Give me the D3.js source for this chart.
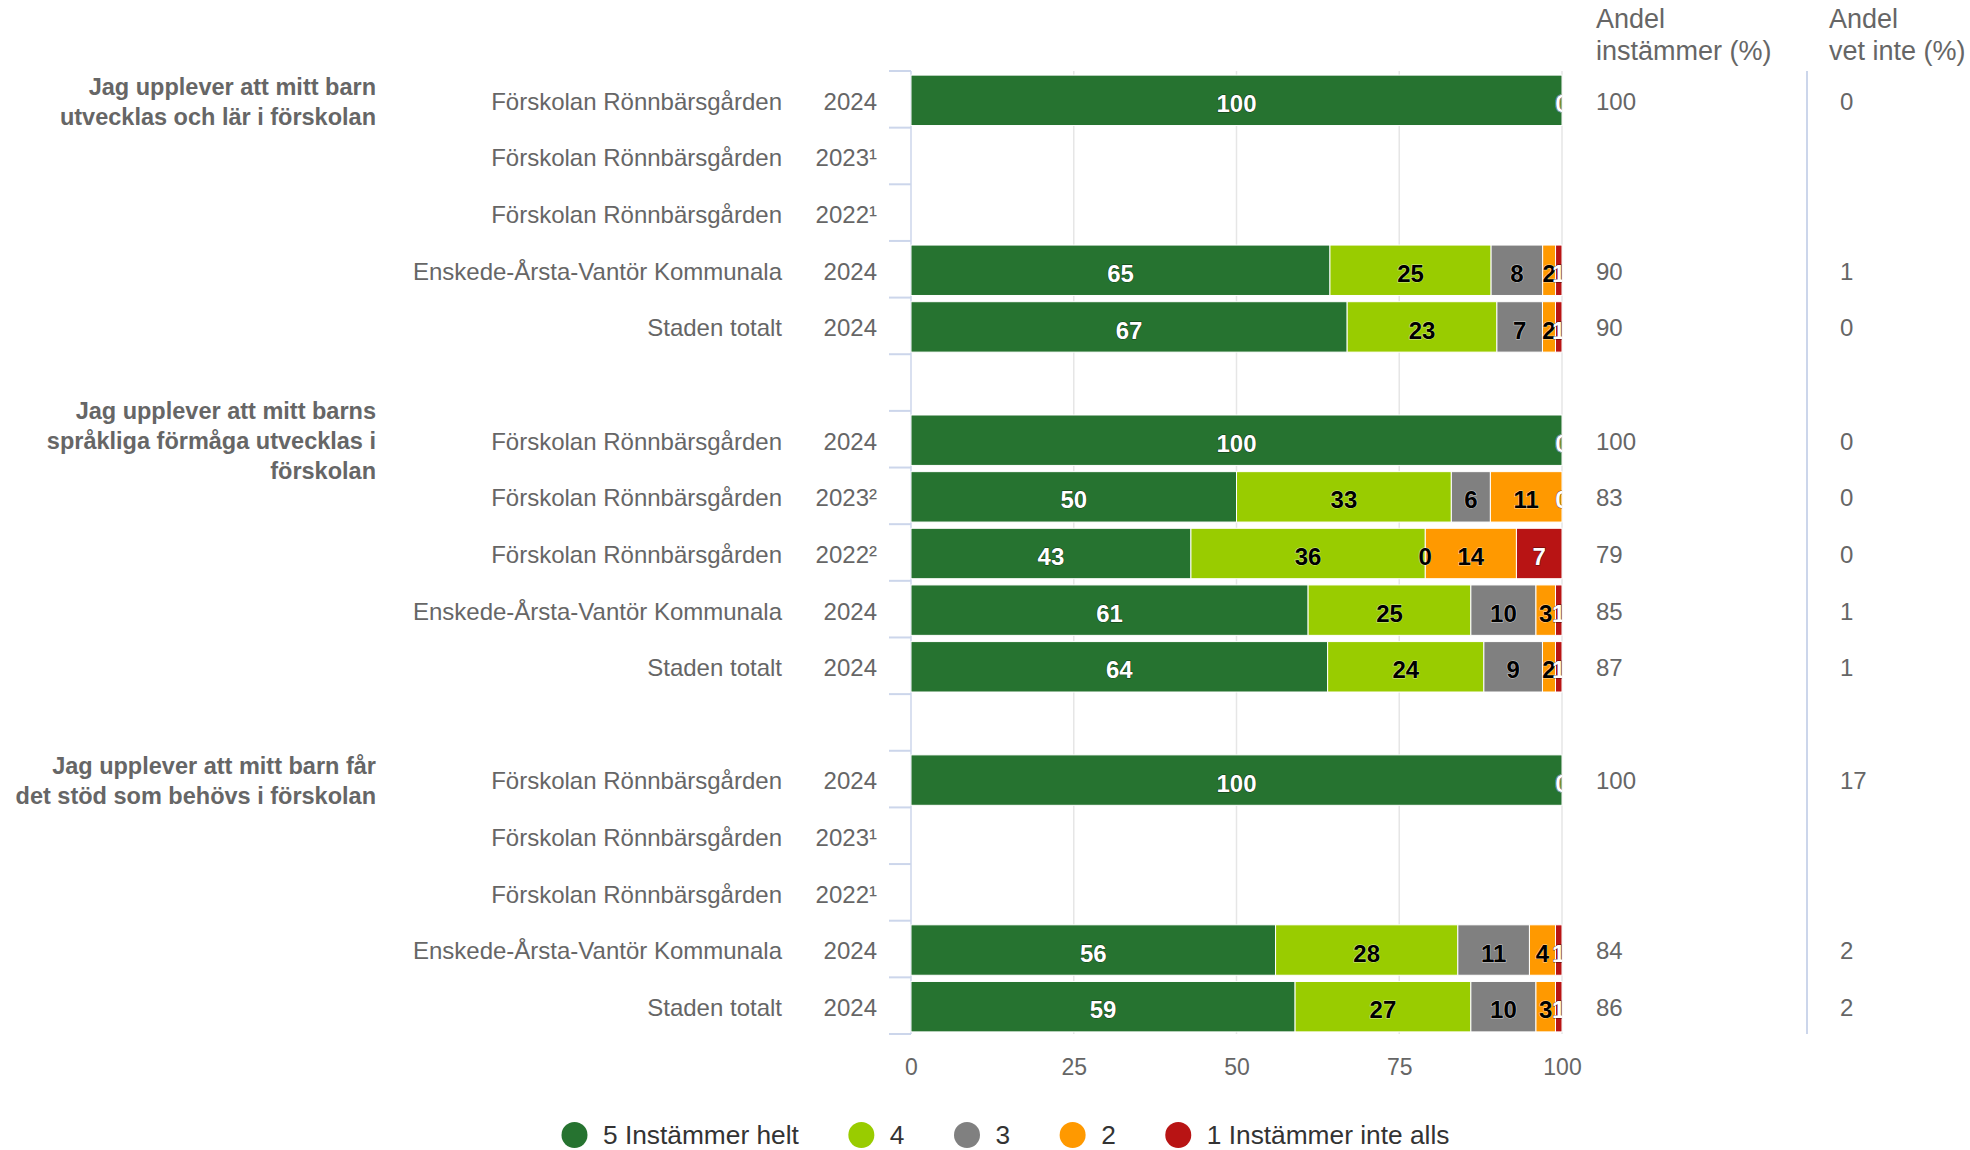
<!DOCTYPE html>
<html>
<head>
<meta charset="utf-8">
<script src="https://cdn.jsdelivr.net/npm/d3@7"></script>
<style>
  body { margin: 0; background: #fff; }
  svg { font-family: "Liberation Sans", Arial, sans-serif; }
</style>
</head>
<body>
<div id="chart"></div>
<script>
const width = 1970
const height = 1150

// question groups (label lines as shown)
const questions = [
  ["Jag upplever att mitt barn", "utvecklas och lär i förskolan"],
  ["Jag upplever att mitt barns", "språkliga förmåga utvecklas i", "förskolan"],
  ["Jag upplever att mitt barn får", "det stöd som behövs i förskolan"]
]
const units = ["Förskolan Rönnbärsgården", "Förskolan Rönnbärsgården", "Förskolan Rönnbärsgården", "Enskede-Årsta-Vantör Kommunala", "Staden totalt"]
const years = [
  ["2024", "2023¹", "2022¹", "2024", "2024"],
  ["2024", "2023²", "2022²", "2024", "2024"],
  ["2024", "2023¹", "2022¹", "2024", "2024"]
]

const seriesNames = ["5 Instämmer helt", "4", "3", "2", "1 Instämmer inte alls"]
const seriesColors = ["#267330", "#99cc00", "#808080", "#ff9900", "#b81414"]
const labelColors = ["#ffffff", "#000000", "#000000", "#000000", "#ffffff"]

// answer shares per row (null = no data)
const s5 = [100, null, null, 65, 67, 100, 50, 43, 61, 64, 100, null, null, 56, 59]
const s4 = [0, null, null, 25, 23, 0, 33, 36, 25, 24, 0, null, null, 28, 27]
const s3 = [0, null, null, 8, 7, 0, 6, 0, 10, 9, 0, null, null, 11, 10]
const s2 = [0, null, null, 2, 2, 0, 11, 14, 3, 2, 0, null, null, 4, 3]
const s1 = [0, null, null, 1, 1, 0, 0, 7, 1, 1, 0, null, null, 1, 1]

const agreeShare = [100, null, null, 90, 90, 100, 83, 79, 85, 87, 100, null, null, 84, 86]
const dontKnowShare = [0, null, null, 1, 0, 0, 0, 0, 1, 1, 17, null, null, 2, 2]

const xTicks = [0, 25, 50, 75, 100]

// build rows, with an empty slot between groups
const rows = []
const keys = []
questions.forEach((q, g) => {
  units.forEach((u, i) => {
    const r = g * units.length + i
    rows.push({
      key: "r" + r, g: g, i: i, unit: u, year: years[g][i],
      values: [s5[r], s4[r], s3[r], s2[r], s1[r]],
      agree: agreeShare[r], dk: dontKnowShare[r]
    })
    keys.push("r" + r)
  })
  if (g < questions.length - 1) keys.push("gap" + g)
})

const svg = d3.select("#chart")
  .append("svg")
  .attr("width", width)
  .attr("height", height)

const x = d3.scaleLinear().domain([0, 100]).range([911, 1562])
const y = d3.scaleBand().domain(keys).range([71, 1034])
  .paddingInner(0.11).paddingOuter(0.055)
const yTop = y.range()[0], yBottom = y.range()[1]
const rowMid = key => y(key) + y.bandwidth() / 2 + 1

// grid lines
svg.append("g")
  .selectAll("line")
  .data(xTicks.slice(1))
  .enter()
  .append("line")
  .attr("x1", d => x(d)).attr("x2", d => x(d))
  .attr("y1", yTop).attr("y2", yBottom)
  .style("stroke", "#e6e6e6")
  .style("stroke-width", 1.5)

// y axis line + tick marks at row boundaries
svg.append("line")
  .attr("x1", x(0)).attr("x2", x(0))
  .attr("y1", yTop).attr("y2", yBottom)
  .style("stroke", "#ccd6eb").style("stroke-width", 1.5)

svg.append("g")
  .selectAll("line")
  .data(d3.range(keys.length + 1))
  .enter()
  .append("line")
  .attr("x1", x(0) - 22).attr("x2", x(0))
  .attr("y1", k => yTop + k * y.step())
  .attr("y2", k => yTop + k * y.step())
  .style("stroke", "#ccd6eb").style("stroke-width", 2)

// stacked bars (percent stacking)
const dataRows = rows.filter(r => r.values[0] != null)
const stacked = d3.stack()
  .keys([0, 1, 2, 3, 4])
  .value((d, k) => d.values[k])
  .offset(d3.stackOffsetExpand)(dataRows)

const layers = svg.append("g")
  .selectAll("g")
  .data(stacked)
  .enter()
  .append("g")
  .style("fill", (d, i) => seriesColors[i])

layers.selectAll("rect")
  .data(d => d)
  .enter()
  .append("rect")
  .attr("x", d => x(d[0] * 100))
  .attr("width", d => x(d[1] * 100) - x(d[0] * 100))
  .attr("y", d => y(d.data.key) + 1)
  .attr("height", y.bandwidth())
  .style("stroke", "#fff")
  .style("stroke-width", 1)

// data labels, clipped to plot area
svg.append("clipPath").attr("id", "plotClip")
  .append("rect")
  .attr("x", x(0)).attr("y", yTop)
  .attr("width", x(100) - x(0)).attr("height", yBottom - yTop)

const labelG = svg.append("g").attr("clip-path", "url(#plotClip)")
stacked.forEach((layer, si) => {
  labelG.append("g")
    .selectAll("text")
    .data(layer)
    .enter()
    .append("text")
    .attr("x", d => x((d[0] + d[1]) / 2 * 100))
    .attr("y", d => rowMid(d.data.key) + 3)
    .attr("dy", "0.36em")
    .text(d => d.data.values[si])
    .style("text-anchor", "middle")
    .style("font-size", "24px")
    .style("font-weight", "bold")
    .style("fill", labelColors[si])
    .style("stroke", labelColors[si] === "#ffffff" ? "#000" : "#fff")
    .style("stroke-width", 1)
    .style("stroke-opacity", 0.6)
    .style("paint-order", "stroke")
})

// x axis labels
const xAxis = svg.append("g")
  .attr("transform", "translate(0," + yBottom + ")")
  .call(d3.axisBottom(x).tickValues(xTicks).tickSize(0).tickPadding(25))
xAxis.select(".domain").remove()
xAxis.selectAll("text")
  .style("font-size", "23px")
  .style("fill", "#666")
  .style("font-family", "Liberation Sans, Arial, sans-serif")

// category labels (unit + year)
const catG = svg.append("g")
catG.selectAll("text.unit")
  .data(rows)
  .enter()
  .append("text")
  .attr("class", "unit")
  .attr("x", 782)
  .attr("y", d => rowMid(d.key) + 1)
  .attr("dy", "0.35em")
  .text(d => d.unit)
  .style("text-anchor", "end")
  .style("font-size", "24px")
  .style("fill", "#666")

catG.selectAll("text.year")
  .data(rows)
  .enter()
  .append("text")
  .attr("class", "year")
  .attr("x", 877)
  .attr("y", d => rowMid(d.key) + 1)
  .attr("dy", "0.35em")
  .text(d => d.year)
  .style("text-anchor", "end")
  .style("font-size", "24px")
  .style("fill", "#666")

// question labels, centred on first row of each group
questions.forEach((lines, g) => {
  const cy = rowMid("r" + g * units.length) + 1
  svg.append("g")
    .selectAll("text")
    .data(lines)
    .enter()
    .append("text")
    .attr("x", 376)
    .attr("y", (d, li) => cy + (li - (lines.length - 1) / 2) * 30)
    .attr("dy", "0.35em")
    .text(d => d)
    .style("text-anchor", "end")
    .style("font-size", "23.5px")
    .style("font-weight", "bold")
    .style("fill", "#666")
})

// right-hand columns
const colX = [1596, 1829]
const headers = [["Andel", "instämmer (%)"], ["Andel", "vet inte (%)"]]
headers.forEach((h, c) => {
  svg.append("g")
    .selectAll("text")
    .data(h)
    .enter()
    .append("text")
    .attr("x", colX[c])
    .attr("y", (d, li) => 28 + li * 32)
    .text(d => d)
    .style("font-size", "27px")
    .style("fill", "#666")
})

svg.append("line")
  .attr("x1", 1807).attr("x2", 1807)
  .attr("y1", yTop).attr("y2", yBottom)
  .style("stroke", "#ccd6eb").style("stroke-width", 2)

svg.append("g")
  .selectAll("text")
  .data(rows.filter(d => d.agree != null))
  .enter()
  .append("text")
  .attr("x", 1596)
  .attr("y", d => rowMid(d.key) + 1)
  .attr("dy", "0.35em")
  .text(d => d.agree)
  .style("font-size", "24px")
  .style("fill", "#666")

svg.append("g")
  .selectAll("text")
  .data(rows.filter(d => d.dk != null))
  .enter()
  .append("text")
  .attr("x", 1840)
  .attr("y", d => rowMid(d.key) + 1)
  .attr("dy", "0.35em")
  .text(d => d.dk)
  .style("font-size", "24px")
  .style("fill", "#666")

// legend
const legend = svg.append("g")
let lx = 574.5
seriesNames.forEach((name, i) => {
  legend.append("circle")
    .attr("cx", lx).attr("cy", 1135).attr("r", 13)
    .style("fill", seriesColors[i])
  const t = legend.append("text")
    .attr("x", lx + 28.5).attr("y", 1135)
    .attr("dy", "0.35em")
    .text(name)
    .style("font-size", "26.3px")
    .style("fill", "#333")
  lx = lx + 28.5 + t.node().getComputedTextLength() + 62.5
})
</script>
</body>
</html>
